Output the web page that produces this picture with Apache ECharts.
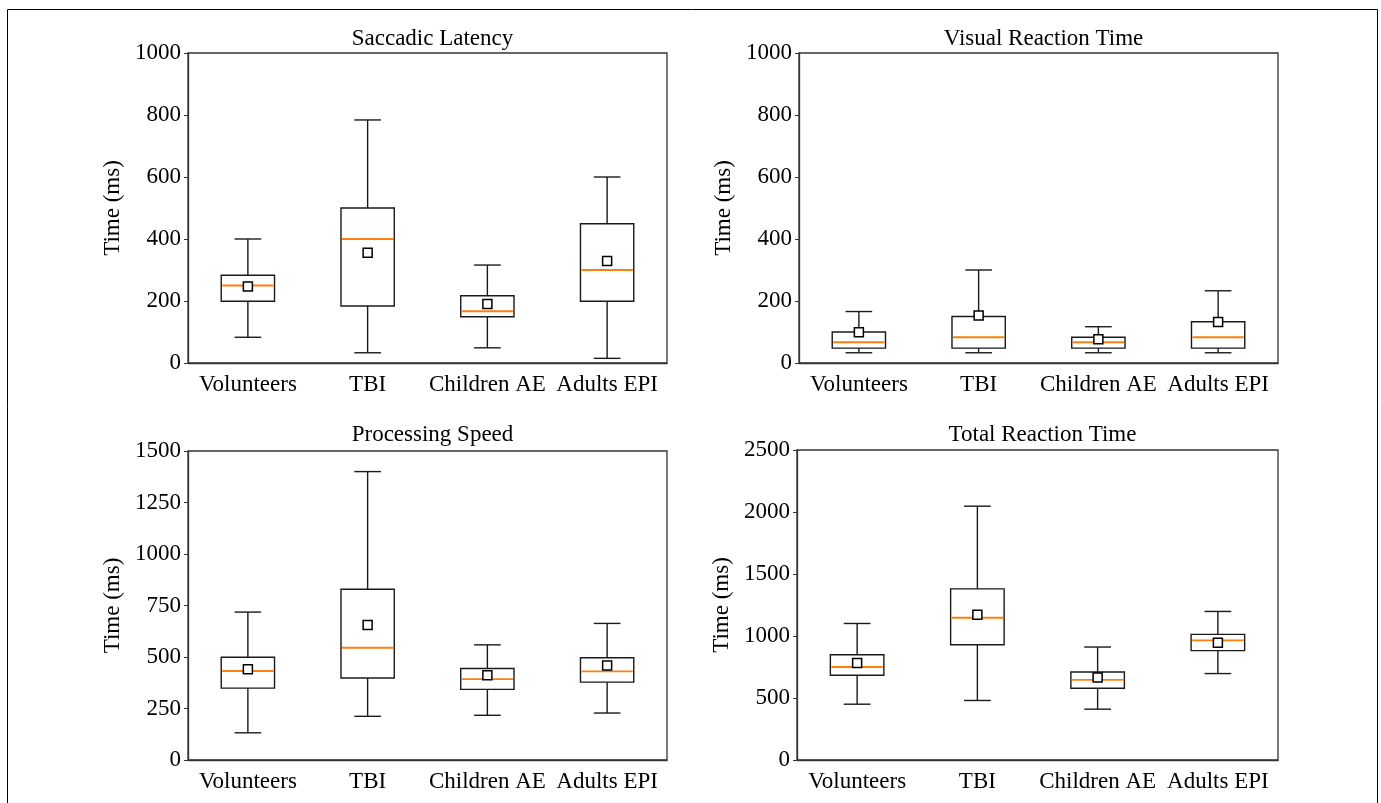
<!DOCTYPE html>
<html>
<head>
<meta charset="utf-8">
<script src="https://cdn.jsdelivr.net/npm/echarts@6/dist/echarts.min.js"></script>
<style>
html,body{margin:0;padding:0;background:#fff;}
#chart{width:1381px;height:803px;}
</style>
</head>
<body>
<div id="chart"></div>
<script>
const categories = ['Volunteers', 'TBI', 'Children AE', 'Adults EPI'];

// [low whisker, Q1, median, Q3, high whisker]
const saccadicBox = [[83, 199, 250, 283, 400], [33, 184, 400, 500, 784], [49, 149, 167, 217, 316], [15, 199, 300, 449, 600]];
const saccadicMean = [247, 356, 190, 329];

const visualBox = [[33, 48, 67, 100, 166], [33, 48, 83, 150, 300], [33, 48, 67, 83, 117], [33, 48, 83, 133, 233]];
const visualMean = [99, 153, 77, 132];

const processingBox = [[132, 349, 432, 499, 718], [212, 398, 545, 829, 1400], [217, 343, 393, 444, 559], [228, 378, 430, 496, 663]];
const processingMean = [440, 655, 412, 459];

const totalBox = [[450, 683, 750, 849, 1101], [480, 930, 1147, 1380, 2047], [410, 579, 646, 710, 911], [697, 882, 965, 1013, 1198]];
const totalMean = [782, 1171, 665, 946];

const titles = ['Saccadic Latency', 'Visual Reaction Time', 'Processing Speed', 'Total Reaction Time'];
const yMax = [1000, 1000, 1500, 2500];
const yInterval = [200, 200, 250, 500];

const FONT = 'Liberation Serif';
const grids = [
  {left: 188, top: 53, width: 479, height: 310},
  {left: 799, top: 53, width: 479, height: 310},
  {left: 188, top: 451, width: 479, height: 309},
  {left: 797, top: 450, width: 481, height: 310}
];
const titleTops = [22, 22, 418, 418];
const boxes = [saccadicBox, visualBox, processingBox, totalBox];
const means = [saccadicMean, visualMean, processingMean, totalMean];

function renderBox(params, api) {
  const x = api.value(0);
  const low = api.coord([x, api.value(1)]);
  const q1 = api.coord([x, api.value(2)]);
  const med = api.coord([x, api.value(3)]);
  const q3 = api.coord([x, api.value(4)]);
  const high = api.coord([x, api.value(5)]);
  const band = api.size([1, 0])[0];
  const bw = band * 0.445;
  const cw = bw / 2;
  const cx = low[0];
  const st = {stroke: '#1a1a1a', lineWidth: 1.4, fill: null};
  return {
    type: 'group',
    children: [
      {type: 'line', shape: {x1: cx, y1: low[1], x2: cx, y2: q1[1]}, style: st},
      {type: 'line', shape: {x1: cx, y1: q3[1], x2: cx, y2: high[1]}, style: st},
      {type: 'line', shape: {x1: cx - cw / 2, y1: low[1], x2: cx + cw / 2, y2: low[1]}, style: st},
      {type: 'line', shape: {x1: cx - cw / 2, y1: high[1], x2: cx + cw / 2, y2: high[1]}, style: st},
      {type: 'rect', shape: {x: cx - bw / 2, y: q3[1], width: bw, height: q1[1] - q3[1]}, style: {stroke: '#1a1a1a', lineWidth: 1.4, fill: 'none'}},
      {type: 'line', shape: {x1: cx - bw / 2 + 1, y1: med[1], x2: cx + bw / 2 - 1, y2: med[1]}, style: {stroke: '#ff7f0e', lineWidth: 1.8}}
    ]
  };
}

const option = {
  animation: false,
  backgroundColor: '#fff',
  title: titles.map((t, i) => ({
    text: t,
    left: grids[i].left + grids[i].width / 2,
    top: titleTops[i],
    textAlign: 'center',
    textStyle: {fontFamily: FONT, fontSize: 23, fontWeight: 'normal', color: '#000'}
  })),
  grid: grids.map(g => Object.assign({show: true, borderColor: '#333', borderWidth: 1.3, backgroundColor: 'transparent'}, g)),
  xAxis: grids.map((g, i) => ({
    type: 'category',
    gridIndex: i,
    data: categories,
    boundaryGap: true,
    axisLine: {lineStyle: {color: '#333', width: 1.3}},
    axisTick: {alignWithLabel: true, length: 4, lineStyle: {color: '#333'}},
    axisLabel: {interval: 0, margin: 10, fontFamily: FONT, fontSize: 23, color: '#000'},
    splitLine: {show: false}
  })),
  yAxis: grids.map((g, i) => ({
    type: 'value',
    gridIndex: i,
    min: 0,
    max: yMax[i],
    interval: yInterval[i],
    name: 'Time (ms)',
    nameLocation: 'middle',
    nameRotate: 90,
    nameGap: 64,
    nameTextStyle: {fontFamily: FONT, fontSize: 23, color: '#000'},
    axisLine: {show: true, lineStyle: {color: '#333', width: 1.3}},
    axisTick: {show: true, length: 4, lineStyle: {color: '#333'}},
    axisLabel: {margin: 7, fontFamily: FONT, fontSize: 23, color: '#000', formatter: v => String(v)},
    splitLine: {show: false}
  })),
  graphic: [{
    type: 'rect',
    shape: {x: 7.5, y: 9.5, width: 1370, height: 820},
    style: {stroke: '#000', lineWidth: 1, fill: 'none'},
    silent: true
  }],
  series: []
};

for (let i = 0; i < 4; i++) {
  option.series.push({
    type: 'custom',
    xAxisIndex: i,
    yAxisIndex: i,
    renderItem: renderBox,
    encode: {x: 0, y: [1, 2, 3, 4, 5]},
    data: boxes[i].map((b, k) => [k].concat(b)),
    z: 2
  });
  option.series.push({
    type: 'scatter',
    xAxisIndex: i,
    yAxisIndex: i,
    symbol: 'rect',
    symbolSize: 9,
    itemStyle: {color: '#fff', borderColor: '#000', borderWidth: 1.5, opacity: 1},
    data: means[i].map((m, k) => [k, m]),
    z: 5
  });
}

const chart = echarts.init(document.getElementById('chart'));
chart.setOption(option);
</script>
</body>
</html>
